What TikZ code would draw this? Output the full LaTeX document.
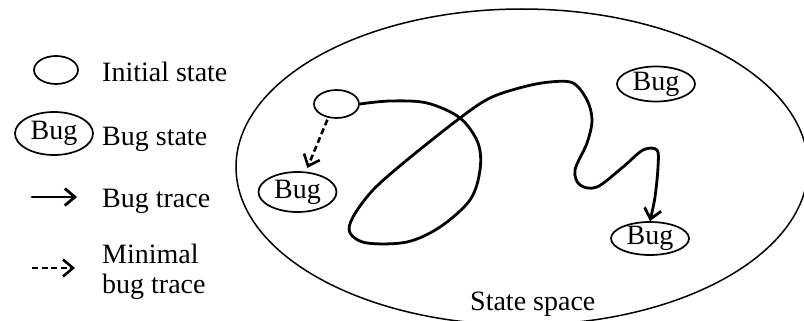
\documentclass[tikz,border=0pt]{standalone}
\usepackage{fontspec}
\setmainfont{Liberation Serif}
\usetikzlibrary{arrows.meta,shapes.geometric}
\begin{document}
\begin{tikzpicture}[x=1pt,y=-1pt,
  txt/.style={font=\fontsize{28}{32}\selectfont, inner sep=0pt},
  lbl/.style={txt, anchor=base west},
  bugstate/.style={draw, ellipse, line width=1.7pt, inner sep=0pt, minimum width=78pt,
     label={[txt]center:Bug}},
  initstate/.style={draw, ellipse, line width=1.7pt, inner sep=0pt,
     minimum width=44pt, minimum height=28pt},
  barb/.style={-{Straight Barb[length=10pt,width=17pt]}},
  trace/.style={line width=2.8pt, line cap=round, line join=round, barb},
  mintrace/.style={line width=2.6pt, dash pattern=on 6pt off 3.5pt, barb},
  space/.style={line width=1.5pt}
]
\useasboundingbox (0,0) rectangle (804,321);
\clip (0,0) rectangle (804,321);

% state space
\draw[space] (522,167) ellipse [x radius=286, y radius=158];
\node[txt, anchor=base west] (ss) at (470,310) {State space};

% legend
\node[initstate] (linit) at (56,70) {};
\node[lbl] (tinit) at (102,82) {Initial state};
\node[bugstate, minimum height=43pt] (lbug) at (54,133.5) {};
\node[lbl] (tbug) at (102,145) {Bug state};
\coordinate (la1) at (32,197);
\coordinate (la2) at (77,197);
\draw[trace] (la1) -- (la2);
\node[lbl] (ttrace) at (102,207) {Bug trace};
\coordinate (lb1) at (32,268);
\coordinate (lb2) at (75,268);
\draw[mintrace] (lb1) -- (lb2);
\node[lbl] (tmin1) at (102,263) {Minimal};
\node[lbl] (tmin2) at (102,293) {bug trace};

% states
\node[initstate, minimum width=45pt] (init) at (336.5,104) {};
\node[bugstate, minimum height=40pt] (bug1) at (297.5,192) {};
\node[bugstate, minimum height=35pt] (bug2) at (656,84) {};
\node[bugstate, minimum height=33pt] (bug3) at (650,238.5) {};

% minimal bug trace
\draw[mintrace, shorten <=2pt, shorten >=4pt] (init.239) -- (bug1.68);

% bug trace
\draw[trace] plot[smooth, tension=0.55] coordinates {
  (init.east) (390,101) (427,103) (460,118) (478,143) (480,170) (470,200)
  (440,227) (407,242) (367,243) (350,233) (353,217) (373,190) (407,160)
  (460,118) (490,98) (523,87) (550,82) (573,83) (587,100) (592,120)
  (587,143) (575,170) (580,185) (597,187) (623,167) (643,150) (657,150)
  (658,167) (655,197) (bug3.north)};
\end{tikzpicture}
\end{document}
